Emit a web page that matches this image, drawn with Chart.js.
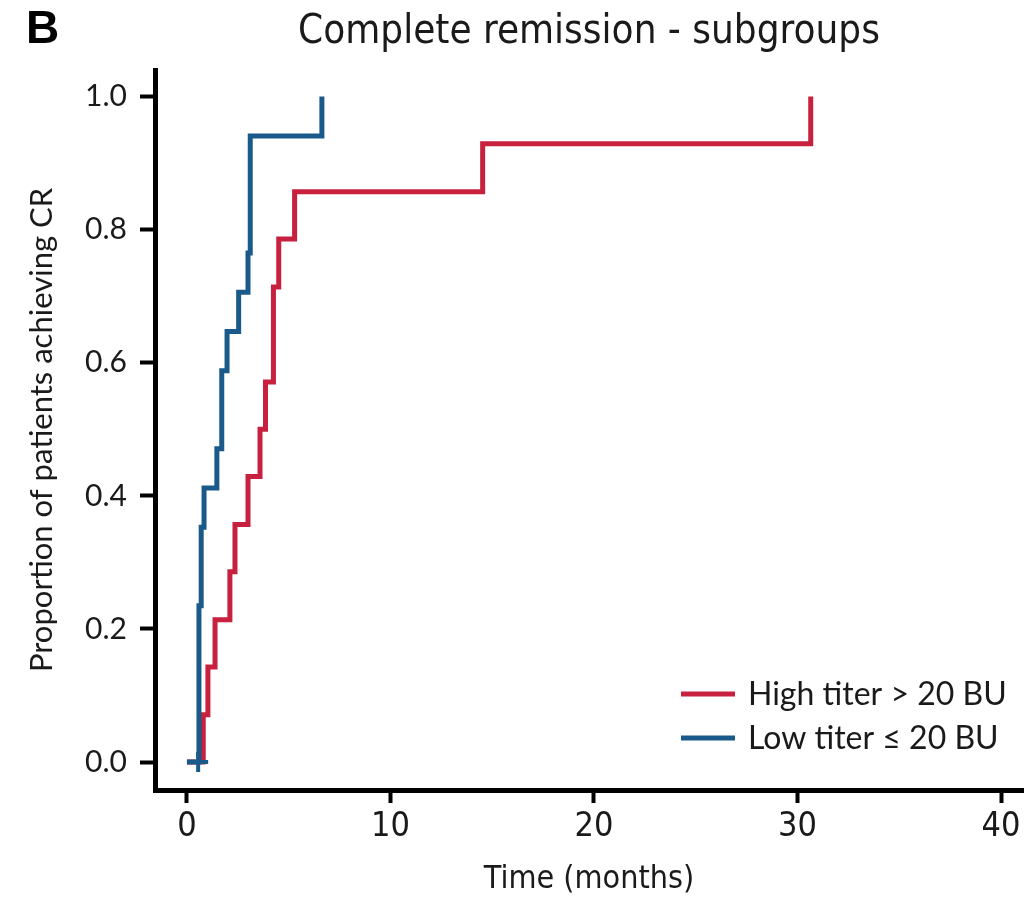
<!DOCTYPE html>
<html>
<head>
<meta charset="utf-8">
<script src="https://cdn.jsdelivr.net/npm/chart.js@4"></script>
<style>
  html, body { margin: 0; padding: 0; background: #fff; }
</style>
</head>
<body>
<canvas id="chartCR" width="1031" height="904"></canvas>
<script>
// Cumulative proportion achieving CR (Kaplan-Meier style steps), time in months
const highTiterTimes  = [0, 0.80, 1.03, 1.38, 2.11, 2.36, 3.00, 3.59, 3.86, 4.25, 4.51, 5.29, 14.53, 30.65];
const highTiterValues = [0, 0.071, 0.143, 0.214, 0.286, 0.357, 0.429, 0.500, 0.571, 0.714, 0.786, 0.857, 0.929, 1.0];
const lowTiterTimes   = [0, 0.59, 0.70, 0.84, 1.47, 1.71, 1.97, 2.54, 3.00, 3.11, 6.63];
const lowTiterValues  = [0, 0.235, 0.353, 0.412, 0.471, 0.588, 0.647, 0.706, 0.765, 0.941, 1.0];

// Censor mark on the low titer curve
const lowCensorTimes  = [0.55];
const lowCensorValues = [0];

const xTicks = [0, 10, 20, 30, 40];
const yTicks = [0, 0.2, 0.4, 0.6, 0.8, 1.0];

const seriesLabels = ['High titer > 20 BU', 'Low titer \u2264 20 BU'];
const panelLetter = 'B';
const chartTitle = 'Complete remission - subgroups';

const COLOR_HIGH = '#c8203f';
const COLOR_LOW = '#1a5a8a';
const TEXT_COLOR = '#1a1a1a';
const NARROW_FONT = '"DejaVu Sans Condensed", "Liberation Sans Narrow", sans-serif';

function toPoints(xs, ys) {
    return xs.map((x, i) => ({ x: x, y: ys[i] }));
}

/**
 * Panel letter, title and in-plot legend
 */
const decorPlugin = {
    id: 'decor',
    afterDraw(chart) {
        const { ctx, chartArea } = chart;
        ctx.save();

        // Panel letter
        ctx.fillStyle = '#000';
        ctx.font = 'bold 46px "Liberation Sans"';
        ctx.textBaseline = 'middle';
        ctx.textAlign = 'left';
        ctx.fillText(panelLetter, 26, 30);

        // Title centred over the plot
        ctx.fillStyle = TEXT_COLOR;
        ctx.font = '40px ' + NARROW_FONT;
        ctx.textAlign = 'center';
        ctx.fillText(chartTitle, (chartArea.left + chartArea.right) / 2, 33);

        // Legend, bottom right inside the plot
        const lx = chartArea.right - 342;
        const rows = [chartArea.bottom - 96, chartArea.bottom - 52];
        const colors = [COLOR_HIGH, COLOR_LOW];
        ctx.font = '32px Lato';
        ctx.textAlign = 'left';
        rows.forEach((y, i) => {
            ctx.strokeStyle = colors[i];
            ctx.lineWidth = 5;
            ctx.lineCap = 'butt';
            ctx.beginPath();
            ctx.moveTo(lx, y);
            ctx.lineTo(lx + 54, y);
            ctx.stroke();
            ctx.fillStyle = TEXT_COLOR;
            ctx.fillText(seriesLabels[i], lx + 67, y + 1);
        });

        ctx.restore();
    }
};

const lineStyle = {
    pointRadius: 0,
    borderWidth: 5,
    stepped: 'before',
    fill: false,
    tension: 0,
    borderJoinStyle: 'miter',
    borderCapStyle: 'butt',
    clip: false
};

new Chart(document.getElementById('chartCR').getContext('2d'), {
    type: 'line',
    data: {
        datasets: [
            {
                label: 'censored',
                data: toPoints(lowCensorTimes, lowCensorValues),
                showLine: false,
                pointStyle: 'cross',
                pointRadius: 10,
                pointBorderWidth: 4,
                borderColor: COLOR_LOW,
                backgroundColor: COLOR_LOW,
                order: 1
            },
            {
                label: seriesLabels[1],
                data: toPoints(lowTiterTimes, lowTiterValues),
                borderColor: COLOR_LOW,
                order: 2,
                ...lineStyle
            },
            {
                label: seriesLabels[0],
                data: toPoints(highTiterTimes, highTiterValues),
                borderColor: COLOR_HIGH,
                order: 3,
                ...lineStyle
            }
        ]
    },
    options: {
        responsive: false,
        animation: false,
        devicePixelRatio: 1,
        layout: {
            autoPadding: false,
            padding: { top: 70, right: 8, left: 0, bottom: 0 }
        },
        plugins: {
            legend: { display: false },
            title: { display: false },
            tooltip: { enabled: false }
        },
        scales: {
            x: {
                type: 'linear',
                min: -1.57,
                max: 41.08,
                afterBuildTicks: (scale) => { scale.ticks = xTicks.map(v => ({ value: v })); },
                afterFit: (scale) => { scale.height = 114; },
                grid: {
                    drawOnChartArea: false,
                    drawTicks: true,
                    tickLength: 13,
                    tickWidth: 4,
                    tickColor: '#000'
                },
                border: { display: true, width: 5, color: '#000' },
                ticks: {
                    font: { family: NARROW_FONT, size: 34 },
                    color: TEXT_COLOR,
                    padding: 4,
                    maxRotation: 0,
                    autoSkip: false
                },
                title: {
                    display: true,
                    text: 'Time (months)',
                    font: { family: NARROW_FONT, size: 32 },
                    color: TEXT_COLOR,
                    padding: { top: 0, bottom: 5 }
                }
            },
            y: {
                type: 'linear',
                min: -0.042,
                max: 1.04,
                afterBuildTicks: (scale) => { scale.ticks = yTicks.map(v => ({ value: v })); },
                afterFit: (scale) => { scale.width = 155; },
                grid: {
                    drawOnChartArea: false,
                    drawTicks: true,
                    tickLength: 15,
                    tickWidth: 4,
                    tickColor: '#000'
                },
                border: { display: true, width: 5, color: '#000' },
                ticks: {
                    callback: (v) => v.toFixed(1),
                    font: { family: 'Lato', size: 30 },
                    color: TEXT_COLOR,
                    padding: 13
                },
                title: {
                    display: true,
                    text: 'Proportion of patients achieving CR',
                    font: { family: 'Lato', size: 31 },
                    color: TEXT_COLOR,
                    padding: { top: 23, bottom: 0 }
                }
            }
        }
    },
    plugins: [decorPlugin]
});
</script>
</body>
</html>
